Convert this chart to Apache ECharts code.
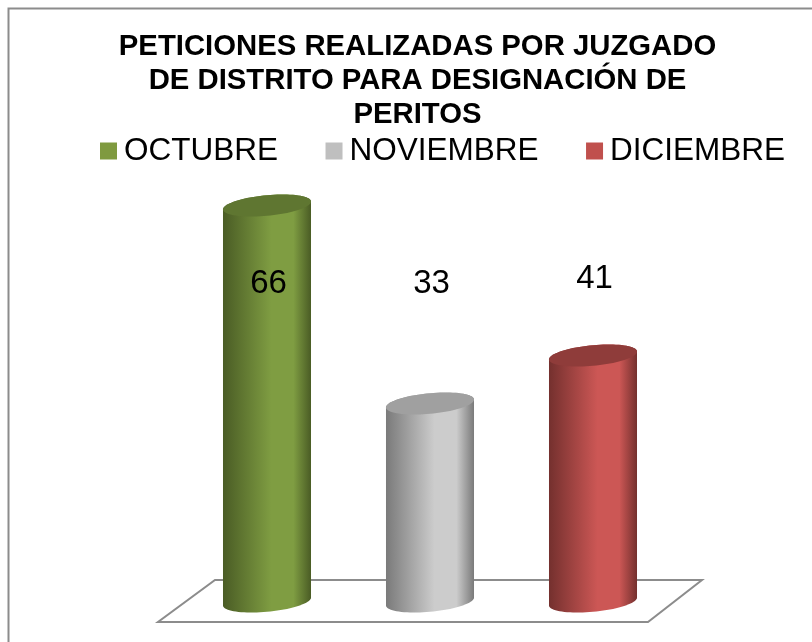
<!DOCTYPE html>
<html><head><meta charset="utf-8">
<style>html,body{margin:0;padding:0;background:#fff}#c{width:812px;height:642px}</style>
<script src="https://cdn.jsdelivr.net/npm/echarts@6/dist/echarts.min.js"></script>
</head><body><div id="c"></div>
<script>
const categories = ['OCTUBRE','NOVIEMBRE','DICIEMBRE'];
const values = [66, 33, 41];
const titleLines = ['PETICIONES REALIZADAS POR JUZGADO','DE DISTRITO PARA DESIGNACIÓN DE','PERITOS'];

const palettes = [
  {legend:'#7F9A3F', mid:'#7F9D42', edge:'#4A5C25', top:'#5F7631'},
  {legend:'#BFBFBF', mid:'#CCCCCC', edge:'#7A7A7A', top:'#A0A0A0'},
  {legend:'#C0504D', mid:'#CC5755', edge:'#74302E', top:'#8F3C3A'}
];
const labelLevels = [53, 53, 53.75];
const FONT = '"Liberation Sans", Arial, sans-serif';

function ellipsePts(cx, cy, a, b, k, from, to, n){
  const pts = [];
  for (let i = 0; i <= n; i++){
    const t = from + (to - from) * i / n;
    pts.push([cx + a*Math.cos(t), cy - b*Math.sin(t) - k*a*Math.cos(t)]);
  }
  return pts;
}
function cylinder(idx){
  const p = palettes[idx];
  return function(params, api){
    const v = api.value(1), c = api.value(0);
    const top = api.coord([c, v]), base = api.coord([c, 0]);
    const a = api.size([1,0])[0] * 0.27, b = 10.3, k = 0.09;
    const body = ellipsePts(top[0], top[1], a, b, k, 0, Math.PI, 40)
      .concat(ellipsePts(top[0], base[1], a, b, k, Math.PI, 2*Math.PI, 40));
    const grad = {type:'linear',x:0,y:0,x2:1,y2:0,colorStops:[
      {offset:0,color:p.edge},{offset:.55,color:p.mid},{offset:.8,color:p.mid},{offset:1,color:p.edge}]};
    const lab = api.coord([c, labelLevels[idx]]);
    return {type:'group',children:[
      {type:'polygon',shape:{points:body},style:{fill:grad}},
      {type:'polygon',shape:{points:ellipsePts(top[0],top[1],a,b,k,0,2*Math.PI,80)},style:{fill:p.top}},
      {type:'text',z2:10,style:{text:String(values[idx]),x:lab[0]+1.5,y:lab[1],align:'center',verticalAlign:'middle',
        font:'33px '+FONT,fill:'#000'}}
    ]};
  };
}
const series = categories.map((name,i)=>({
  type:'custom',name,coordinateSystem:'cartesian2d',z:3,
  color:palettes[i].legend,itemStyle:{color:palettes[i].legend},
  renderItem:cylinder(i),
  encode:{x:0,y:1},
  data:[[i,values[i]]]
}));
series.unshift({
  type:'custom',name:'floor',silent:true,z:1,
  renderItem:function(params,api){
    const l = api.coord([0,0]), r = api.coord([categories.length-1,0]);
    const backY = l[1]-21.5, frontY = l[1]+20.5;
    return {type:'polygon',shape:{points:[[l[0]-52,backY],[r[0]+109,backY],[r[0]+55,frontY],[l[0]-109,frontY]]},
      style:{fill:'#fff',stroke:'#8C8C8C',lineWidth:2}};
  },
  encode:{x:0,y:1},
  data:[[0,0]]
});
const chart = echarts.init(document.getElementById('c'),null,{renderer:'canvas'});
chart.setOption({
  animation:false,
  backgroundColor:'#fff',
  title:{text:titleLines.join('\n'),left:412.5,top:25,textAlign:'center',
    textStyle:{fontFamily:FONT,fontWeight:'bold',fontSize:29.3,lineHeight:34,color:'#000'}},
  legend:{data:categories,left:95,top:130,icon:'rect',itemWidth:17,itemHeight:17,itemGap:47.5,
    textStyle:{fontFamily:FONT,fontSize:31.5,color:'#000',padding:[0,0,0,2]}},
  grid:{left:185.5,width:489,top:205.5,height:396},
  xAxis:{type:'category',data:categories,show:false},
  yAxis:{type:'value',min:0,max:66,show:false},
  graphic:[{type:'rect',silent:true,z:-1,shape:{x:8.5,y:8.5,width:820,height:650},style:{fill:'none',stroke:'#8C8C8C',lineWidth:2}}],
  series
});
</script></body></html>
